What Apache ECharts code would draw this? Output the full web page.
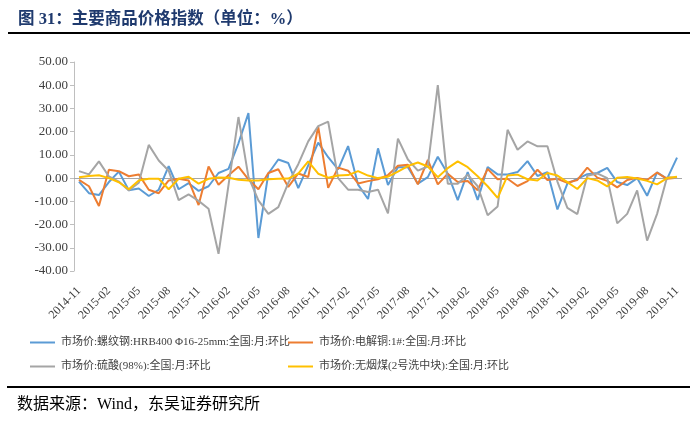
<!DOCTYPE html>
<html>
<head>
<meta charset="utf-8">
<script src="https://cdn.jsdelivr.net/npm/echarts@6/dist/echarts.min.js"></script>
<style>html,body{margin:0;padding:0;background:#fff;}#c{width:698px;height:424px;}</style>
</head>
<body>
<div id="c"></div>
<script>
// Months 2014-11 .. 2019-11
var months = [];
(function(){ var y=2014, m=11; for (var k=0;k<61;k++){ months.push(y+'-'+(m<10?'0'+m:m)); m++; if(m>12){m=1;y++;} } })();

var seriesNames = [
  '市场价:螺纹钢:HRB400 Φ16-25mm:全国:月:环比',
  '市场价:电解铜:1#:全国:月:环比',
  '市场价:硫酸(98%):全国:月:环比',
  '市场价:无烟煤(2号洗中块):全国:月:环比'
];

var steel = [-1.5,-6.5,-7.3,-1.7,2.8,-5.2,-4.5,-7.7,-5.0,5.2,
  -4.8,-2.2,-5.5,-3.5,2.2,4.0,15.0,28.0,-25.8,2.0,
  8.0,6.5,-4.3,5.5,15.3,9.0,3.8,13.8,-2.8,-9.0,
  12.8,-3.0,4.7,4.7,-2.4,0.4,9.2,1.9,-9.5,2.6,
  -9.4,4.8,1.6,1.6,2.6,7.3,0.9,2.6,-13.5,-2.4,
  -0.3,1.7,2.2,4.4,-1.7,-3.0,0.0,-7.6,2.5,-0.3,8.8];

var copper = [-0.8,-3.5,-12.0,3.6,3.0,0.8,1.6,-5.0,-6.5,-1.0,
  -0.3,-1.0,-11.6,5.0,-2.9,1.2,4.9,-0.5,-4.8,2.2,
  3.8,-3.8,2.0,0.5,22.2,-4.2,4.5,3.2,-2.3,-1.3,
  -0.5,1.3,5.3,5.8,-2.7,7.8,-2.7,1.9,-1.7,-1.2,
  -5.2,4.0,-0.5,-0.3,-3.4,-1.3,3.6,-0.8,-0.3,-2.0,
  -0.8,4.5,0.2,-1.2,-4.0,-0.8,0.1,-0.8,2.4,-0.3,0.1];

var sulfuric = [3.0,1.6,7.2,0.7,-1.5,-5.3,-2.0,14.3,7.6,3.2,
  -9.5,-7.0,-9.8,-13.2,-32.6,-3.0,26.3,0.5,-9.6,-15.4,
  -12.5,-2.0,6.0,15.8,22.4,24.3,0.0,-5.0,-5.0,-6.0,
  -5.0,-15.2,17.0,8.0,3.2,5.0,40.0,-2.4,-2.4,1.5,
  -3.5,-16.0,-12.2,20.8,12.2,15.8,13.7,13.7,-1.5,-12.8,
  -15.5,1.0,2.0,0.0,-19.5,-15.4,-5.3,-26.9,-15.4,0.4,0.0];

var coal = [0.4,0.9,1.2,0.0,-1.8,-4.8,-1.0,-0.3,-0.3,-4.8,
  -0.3,0.6,-2.4,-0.3,0.3,0.2,-0.7,-1.0,-1.0,-0.5,
  -0.3,-0.2,1.9,7.2,1.9,0.2,1.1,1.3,3.0,1.1,
  0.0,0.6,2.8,5.2,6.7,5.0,0.4,4.3,7.2,4.7,
  0.8,-3.5,-8.5,1.1,1.5,-0.5,-1.0,2.2,1.1,-1.7,
  -4.7,0.0,-1.0,-3.6,0.2,0.5,-0.2,-1.2,-2.7,0.0,0.6];

var yTicks = {min: -40, max: 50, interval: 10};
var colors = ['#5B9BD5', '#ED7D31', '#A5A5A5', '#FFC000'];
var values = [steel, copper, sulfuric, coal];

var chart = echarts.init(document.getElementById('c'), null, {renderer: 'canvas'});

var legendPos = [
  {left: 30, top: 337},
  {left: 288, top: 337},
  {left: 30, top: 361},
  {left: 288, top: 361}
];
var legends = legendPos.map(function(p, i){
  return {
    left: p.left, top: p.top, orient: 'horizontal', padding: 0,
    data: [seriesNames[i]],
    icon: 'rect', itemWidth: 25, itemHeight: 2,
    textStyle: {fontFamily: 'Liberation Serif, Noto Sans CJK SC', fontSize: 11, color: '#404040', padding: [0,0,0,1]},
    selectedMode: false
  };
});

var series = values.map(function(v, i){
  var s = {
    name: seriesNames[i], type: 'line', data: v,
    showSymbol: false, symbol: 'none',
    lineStyle: {color: colors[i], width: 2},
    itemStyle: {color: colors[i]},
    z: 3 + i,
    animation: false
  };
  if (i === 0) {
    s.markLine = {
      silent: true, symbol: 'none', animation: false,
      label: {show: false},
      lineStyle: {color: '#A6A6A6', width: 1, type: 'solid'},
      data: [{yAxis: 0}],
      z: 1
    };
  }
  return s;
});

chart.setOption({
  backgroundColor: '#ffffff',
  animation: false,
  grid: {left: 74, right: 16, top: 62, bottom: 153, containLabel: false},
  legend: legends,
  xAxis: {
    type: 'category', data: months, boundaryGap: true,
    axisLine: {show: false},
    axisTick: {show: false},
    axisLabel: {interval: 2, rotate: 45, margin: 18, fontFamily: 'Liberation Serif', fontSize: 12, color: '#404040'}
  },
  yAxis: {
    type: 'value', min: yTicks.min, max: yTicks.max, interval: yTicks.interval,
    axisLine: {show: true, lineStyle: {color: '#BFBFBF', width: 1}},
    axisTick: {show: true, inside: false, length: 4, lineStyle: {color: '#BFBFBF'}},
    splitLine: {show: false},
    axisLabel: {margin: 6, fontFamily: 'Liberation Serif', fontSize: 13, color: '#404040',
      formatter: function(v){ return v.toFixed(2); }}
  },
  graphic: [
    {type: 'text', left: 18, top: 11, style: {text: '图 31：主要商品价格指数（单位：%）', fill: '#1F3A6E',
      font: 'bold 16.5px "Liberation Serif", "Noto Sans CJK SC"'}},
    {type: 'rect', shape: {x: 8, y: 32, width: 682, height: 2}, style: {fill: '#000'}},
    {type: 'rect', shape: {x: 7, y: 386, width: 683, height: 2}, style: {fill: '#000'}},
    {type: 'text', left: 17, top: 397, style: {text: '数据来源：Wind，东吴证券研究所', fill: '#000',
      font: '16px "Liberation Serif", "Noto Sans CJK SC"'}}
  ],
  series: series
});
</script>
</body>
</html>
